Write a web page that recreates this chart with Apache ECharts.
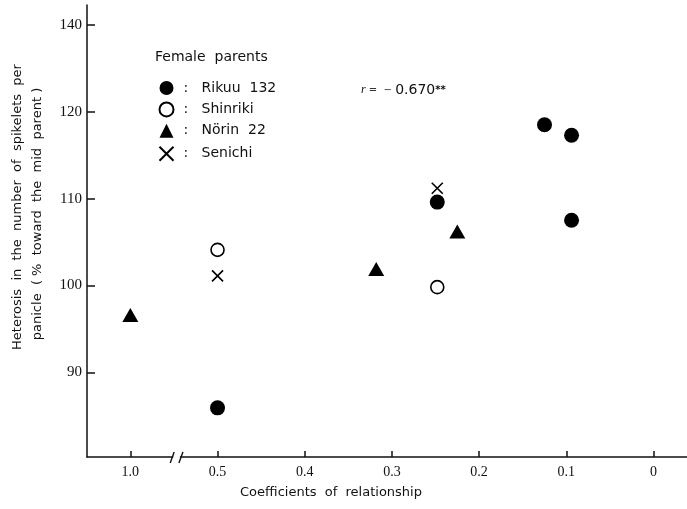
<!DOCTYPE html>
<html>
<head>
<meta charset="utf-8">
<script src="https://cdn.jsdelivr.net/npm/echarts@6/dist/echarts.min.js"></script>
<style>
  html, body { margin: 0; padding: 0; background: #fff; }
  #chart { width: 687px; height: 509px; }
</style>
</head>
<body>
<div id="chart"></div>
<script>
// Heterosis in spikelets per panicle vs. coefficient of relationship
const seriesNames = ['Rikuu  132', 'Shinriki', 'Nörin  22', 'Senichi'];

const rikuuX = [0.5, 0.248, 0.125, 0.094, 0.094];
const rikuuY = [85.9, 109.6, 118.5, 117.3, 107.5];
const shinrikiX = [0.5, 0.248];
const shinrikiY = [104.1, 99.8];
const norinX = [1.0, 0.318, 0.225];
const norinY = [96.6, 101.9, 106.2];
const senichiX = [0.5, 0.248];
const senichiY = [101.1, 111.2];

const xTickValues = [1.0, 0.5, 0.4, 0.3, 0.2, 0.1, 0];
const xTickLabels = ['1.0', '0.5', '0.4', '0.3', '0.2', '0.1', '0'];
const yTickValues = [90, 100, 110, 120, 130];
const yTickLabels = ['90', '100', '110', '120', '140'];

// Broken x axis: coefficients above 0.5 are drawn one step beyond 0.5
function axisPos(c) { return c > 0.5 ? 0.6 : c; }
function pairs(xs, ys) { return xs.map((x, i) => [axisPos(x), ys[i]]); }

const xAxisTicks = xTickValues.map(axisPos);
function xLabel(v) {
  const i = xAxisTicks.findIndex(t => Math.abs(t - v) < 1e-6);
  return i >= 0 ? xTickLabels[i] : '';
}
function yLabel(v) {
  const i = yTickValues.findIndex(t => Math.abs(t - v) < 1e-6);
  return i >= 0 ? yTickLabels[i] : '';
}

const ink = '#111';
const sans = 'DejaVu Sans';
const serif = 'Liberation Serif';
const crossPath = 'path://M0,0L10,10M10,0L0,10';

const chart = echarts.init(document.getElementById('chart'));
chart.setOption({
  animation: false,
  backgroundColor: '#fff',
  grid: { left: 87, right: 0, top: 5, bottom: 52 },
  xAxis: {
    type: 'value',
    inverse: true,
    min: -0.0384,
    max: 0.6497,
    splitLine: { show: false },
    axisLine: { show: true, onZero: false, lineStyle: { color: ink, width: 1.5 } },
    axisTick: { show: true, inside: true, length: 6, customValues: xAxisTicks,
      lineStyle: { color: ink, width: 1.5 } },
    axisLabel: { customValues: xAxisTicks, formatter: xLabel, margin: 8,
      fontFamily: serif, fontSize: 14, color: ink }
  },
  yAxis: {
    type: 'value',
    min: 80.24,
    max: 132.3,
    splitLine: { show: false },
    axisLine: { show: true, onZero: false, lineStyle: { color: ink, width: 1.5 } },
    axisTick: { show: true, inside: true, length: 8, customValues: yTickValues,
      lineStyle: { color: ink, width: 1.5 } },
    axisLabel: { customValues: yTickValues, formatter: yLabel, margin: 5,
      fontFamily: serif, fontSize: 15, color: ink }
  },
  legend: {
    orient: 'vertical',
    left: 157,
    top: 81,
    padding: 0,
    itemWidth: 14,
    itemHeight: 14,
    itemGap: 6.4,
    data: seriesNames,
    formatter: name => ':   ' + name,
    textStyle: { fontFamily: sans, fontSize: 14, color: ink, padding: [0, 0, 0, 5] }
  },
  series: [
    { name: seriesNames[0], type: 'scatter', symbol: 'circle', symbolSize: 15,
      itemStyle: { color: '#000', opacity: 1 }, data: pairs(rikuuX, rikuuY) },
    { name: seriesNames[1], type: 'scatter', symbol: 'circle', symbolSize: 13,
      itemStyle: { color: '#fff', borderColor: '#000', borderWidth: 1.6, opacity: 1 },
      data: pairs(shinrikiX, shinrikiY) },
    { name: seriesNames[2], type: 'scatter', symbol: 'triangle', symbolSize: [16, 14],
      itemStyle: { color: '#000', opacity: 1 }, data: pairs(norinX, norinY) },
    { name: seriesNames[3], type: 'scatter', symbol: crossPath, symbolSize: 11,
      itemStyle: { color: 'none', borderColor: '#000', borderWidth: 1.6, opacity: 1 },
      data: pairs(senichiX, senichiY) }
  ]
});

// Axis titles, legend heading, correlation note and the break marks on the x axis
const axisY = chart.convertToPixel({ yAxisIndex: 0 }, 80.24);
const b1 = chart.convertToPixel({ xAxisIndex: 0 }, 0.552);
const b2 = chart.convertToPixel({ xAxisIndex: 0 }, 0.542);

chart.setOption({
  graphic: [
    { type: 'rect', shape: { x: b1 + 1, y: axisY - 2, width: b2 - b1 - 2, height: 4 },
      style: { fill: '#fff' }, z: 100 },
    { type: 'line', shape: { x1: b1 - 2, y1: axisY + 6, x2: b1 + 2, y2: axisY - 5 },
      style: { stroke: ink, lineWidth: 1.4 }, z: 101 },
    { type: 'line', shape: { x1: b2 - 2, y1: axisY + 6, x2: b2 + 2, y2: axisY - 5 },
      style: { stroke: ink, lineWidth: 1.4 }, z: 101 },
    { type: 'text', x: 18, y: 207, rotation: Math.PI / 2,
      style: { text: 'Heterosis  in  the  number  of  spikelets  per', fontFamily: sans,
        fontSize: 13, fill: ink, align: 'center', verticalAlign: 'middle' } },
    { type: 'text', x: 38, y: 214, rotation: Math.PI / 2,
      style: { text: 'panicle  ( %  toward  the  mid  parent )', fontFamily: sans,
        fontSize: 13, fill: ink, align: 'center', verticalAlign: 'middle' } },
    { type: 'text', x: 331, y: 493,
      style: { text: 'Coefficients  of  relationship', fontFamily: sans,
        fontSize: 13, fill: ink, align: 'center', verticalAlign: 'middle' } },
    { type: 'text', x: 155, y: 57,
      style: { text: 'Female  parents', fontFamily: sans,
        fontSize: 14, fill: ink, align: 'left', verticalAlign: 'middle' } },
    { type: 'text', x: 361, y: 90,
      style: {
        text: '{r|r}{s| =  − }{n|0.670}{a|**}',
        align: 'left', verticalAlign: 'middle',
        rich: {
          r: { fontFamily: serif, fontStyle: 'italic', fontSize: 12, fill: ink },
          s: { fontFamily: sans, fontSize: 10, fill: '#333' },
          n: { fontFamily: sans, fontSize: 14, fill: ink },
          a: { fontFamily: sans, fontSize: 10, fontWeight: 'bold', fill: ink }
        }
      } }
  ]
});
</script>
</body>
</html>
